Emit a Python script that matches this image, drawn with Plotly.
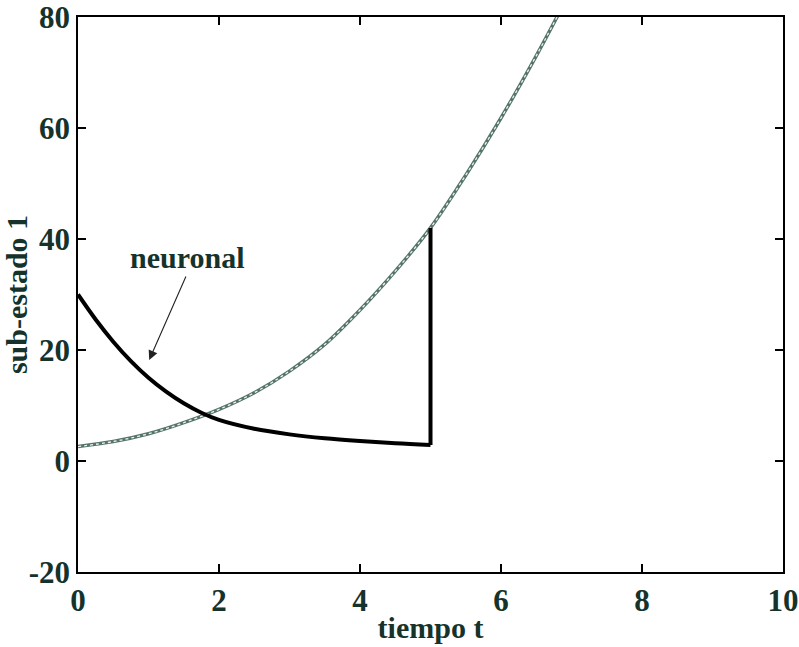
import plotly.graph_objects as go

# Data
t_neuronal = [0, 0.25, 0.5, 0.75, 1.0, 1.25, 1.5, 1.75, 2.0, 2.5, 3.0, 3.5, 4.0, 4.5, 5.0]
y_neuronal = [30, 25.5, 21.5, 18.0, 15.0, 12.5, 10.4, 8.7, 7.4, 5.8, 4.8, 4.1, 3.6, 3.2, 2.9]

t_other = [0, 0.5, 1.0, 1.5, 2.0, 2.5, 3.0, 3.5, 4.0, 4.5, 5.0, 5.5, 6.0, 6.5, 7.0]
y_other = [2.6, 3.5, 4.9, 6.9, 9.3, 12.3, 16.2, 21.0, 27.2, 34.2, 42.0, 51.5, 61.8, 73.0, 85.0]

jump_t = [5.0, 5.0]
jump_y = [y_neuronal[-1], y_other[t_other.index(5.0)]]

x_ticks = [0, 2, 4, 6, 8, 10]
y_ticks = [-20, 0, 20, 40, 60, 80]

label_text = "neuronal"
x_title = "tiempo t"
y_title = "sub-estado 1"

TXT = "#15332a"
FONT = "Liberation Serif"

fig = go.Figure()
fig.add_trace(go.Scatter(x=t_other, y=y_other, mode="lines", line=dict(color="#56756a", width=3.5, shape="spline"), hoverinfo="skip"))
fig.add_trace(go.Scatter(x=t_other, y=y_other, mode="lines", line=dict(color="#eef2ef", width=1.3, dash="dot", shape="spline"), hoverinfo="skip"))
fig.add_trace(go.Scatter(x=t_neuronal, y=y_neuronal, mode="lines", line=dict(color="black", width=4, shape="spline"), hoverinfo="skip"))
fig.add_trace(go.Scatter(x=jump_t, y=jump_y, mode="lines", line=dict(color="black", width=4), hoverinfo="skip"))

fig.add_annotation(x=1.55, y=36.6, text="<b>%s</b>" % label_text, showarrow=False,
                   font=dict(family=FONT, size=30, color=TXT), xref="x", yref="y")
fig.add_annotation(x=1.01, y=18.2, ax=1.54, ay=33.5, axref="x", ayref="y", xref="x", yref="y",
                   text="", showarrow=True, arrowhead=2, arrowsize=1.7, arrowwidth=1.1, arrowcolor="#222")

axis_common = dict(showgrid=False, zeroline=False, showline=True, linecolor="black", linewidth=1.5,
                   mirror="ticks", ticks="inside", ticklen=8, tickwidth=1.5, tickcolor="black",
                   automargin=False, ticklabeloverflow="allow",
                   tickfont=dict(family=FONT, size=31, color=TXT))

fig.update_xaxes(range=[0, 10], tickvals=x_ticks, ticktext=["<b>%d</b>" % v for v in x_ticks],
                 title=dict(text="<b>%s</b>" % x_title, font=dict(family=FONT, size=30, color=TXT), standoff=0),
                 **axis_common)
fig.update_yaxes(range=[-20, 80], tickvals=y_ticks, ticktext=["<b>%d</b>" % v for v in y_ticks],
                 title=dict(text="<b>%s</b>" % y_title, font=dict(family=FONT, size=30, color=TXT), standoff=0),
                 **axis_common)

fig.update_layout(width=799, height=647, margin=dict(l=78, r=16, t=17, b=75),
                  paper_bgcolor="white", plot_bgcolor="white", showlegend=False)

fig.write_html("out.html")
